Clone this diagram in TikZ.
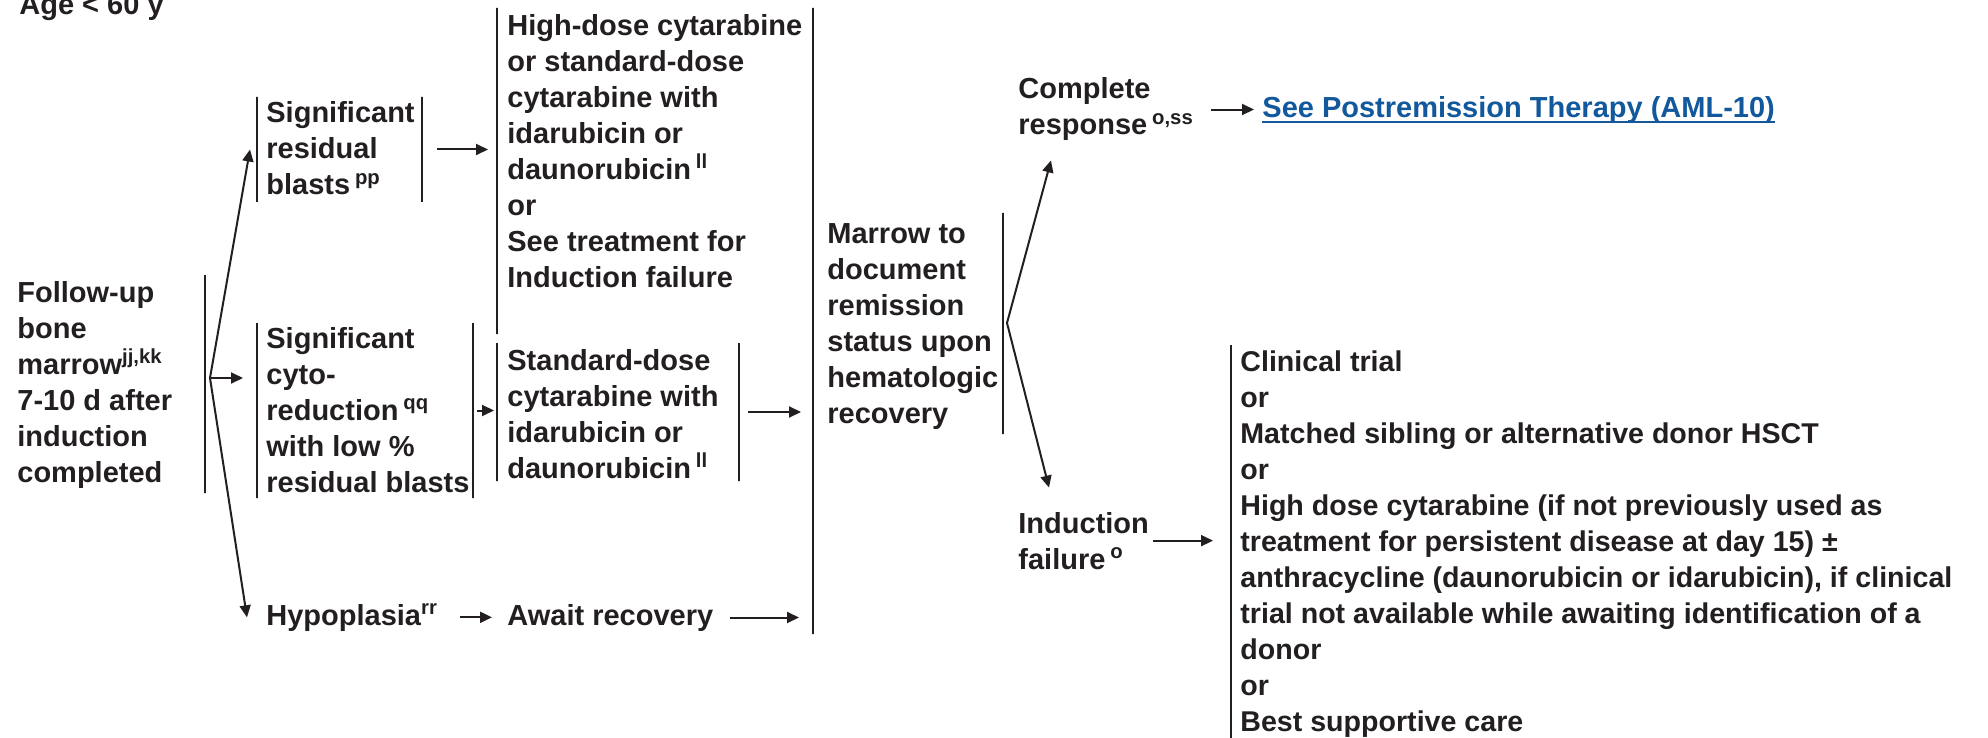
\documentclass[tikz,border=0pt]{standalone}
\usepackage{fontspec}
\setmainfont{Liberation Sans}
\usetikzlibrary{arrows.meta}
\definecolor{ink}{RGB}{35,31,32}
\definecolor{linkblue}{RGB}{17,89,156}
\tikzset{>={Triangle[length=6pt,width=5.5pt]},
	txt/.style={anchor=base west,align=left,inner sep=0pt,text=ink,font=\bfseries\fontsize{14.5}{18}\selectfont},
	opt/.style={txt,font=\bfseries\fontsize{14.3}{18}\selectfont},
	lnk/.style={txt,text=linkblue},
	vbar/.style={draw=ink,line width=1pt,inner sep=0pt,outer sep=0pt,minimum width=0pt,minimum height=#1*0.5pt},
	arr/.style={->,draw=ink,line width=1pt}}

\begin{document}
\begin{tikzpicture}[x=0.5pt,y=-0.5pt]
	\useasboundingbox (0,0) rectangle (1988,738);
	\node (age) at (19,15) [txt] {Age < 60 y};
	\node (fu) at (17,482) [txt] {Follow-up\\bone\\marrow\textsuperscript{jj,kk}\\7-10 d after\\induction\\completed};
	\node (sr) at (266,195) [txt] {Significant\\residual\\blasts\,\textsuperscript{pp}};
	\node (sc) at (266,492) [txt] {Significant\\cyto-\\reduction\,\textsuperscript{qq}\\with low \%\\residual blasts};
	\node (hy) at (266,625) [txt] {Hypoplasia\textsuperscript{rr}};
	\node (hd) at (507,287) [txt] {High-dose cytarabine\\or standard-dose\\cytarabine with\\idarubicin or\\daunorubicin\,\textsuperscript{ll}\\or\\See treatment for\\Induction failure};
	\node (sd) at (507,478) [txt] {Standard-dose\\cytarabine with\\idarubicin or\\daunorubicin\,\textsuperscript{ll}};
	\node (aw) at (507,625) [txt] {Await recovery};
	\node (mr) at (827,423) [txt] {Marrow to\\document\\remission\\status upon\\hematologic\\recovery};
	\node (cr) at (1018,135) [txt] {Complete\\response\,\textsuperscript{o,ss}};
	\node (lk) at (1262,118) [lnk] {See Postremission Therapy (AML-10)};
	\node (if) at (1018,569) [txt] {Induction\\failure\,\textsuperscript{o}};
	\node (op) at (1240,731) [opt] {Clinical trial\\or\\Matched sibling or alternative donor HSCT\\or\\High dose cytarabine (if not previously used as\\treatment for persistent disease at day 15) ±\\anthracycline (daunorubicin or idarubicin), if clinical\\trial not available while awaiting identification of a\\donor\\or\\Best supportive care};
	\node (bfu) at (205,384) [vbar=218] {};
	\node (bsrl) at (257,149.5) [vbar=105] {};
	\node (bsrr) at (422,149.5) [vbar=105] {};
	\node (bscl) at (257,410.5) [vbar=175] {};
	\node (bscr) at (473,410.5) [vbar=175] {};
	\node (bhd) at (497,171) [vbar=326] {};
	\node (bsdl) at (497,412) [vbar=138] {};
	\node (bsdr) at (739,412) [vbar=138] {};
	\node (bmrl) at (813,321) [vbar=626] {};
	\node (bmrr) at (1003,323.5) [vbar=221] {};
	\node (bop) at (1231,541.5) [vbar=393] {};
	\coordinate (fk1) at (210,378);
	\coordinate (fk2) at (1007,323);
	\draw[arr] (fk1) -- ([xshift=-3.5pt]bsrl.west);
	\draw[arr,shorten >=7pt] (fk1) -- (fk1 -| bscl.west);
	\draw[arr] (fk1) -- ([xshift=-9.5pt]hy.west);
	\draw[arr,shorten <=7.5pt,shorten >=4.5pt] (bsrr.east) -- (bsrr.east -| bhd.west);
	\draw[arr,shorten <=2pt,shorten >=1.5pt] (bscr.east) -- (bscr.east -| bsdl.west);
	\draw[arr,shorten <=4.5pt,shorten >=6pt] (bsdr.east) -- (bsdr.east -| bmrl.west);
	\draw[arr,shorten <=11pt,shorten >=7.5pt] (hy.east) -- (hy.east -| aw.west);
	\draw[arr,shorten <=8pt,shorten >=7pt] (aw.east) -- (aw.east -| bmrl.west);
	\draw[arr] (fk2) -- ([xshift=16.5pt,yshift=-9.5pt]cr.south west);
	\draw[arr] (fk2) -- ([xshift=15.5pt,yshift=12pt]if.north west);
	\draw[arr,shorten <=8.5pt,shorten >=4pt] (cr.east) -- (cr.east -| lk.west);
	\draw[arr,shorten <=2pt,shorten >=9pt] (if.east) -- (if.east -| bop.west);
	\draw[linkblue,line width=0.75pt] ([yshift=-2pt]lk.base west) -- ([yshift=-2pt]lk.base east);
\end{tikzpicture}
\end{document}
